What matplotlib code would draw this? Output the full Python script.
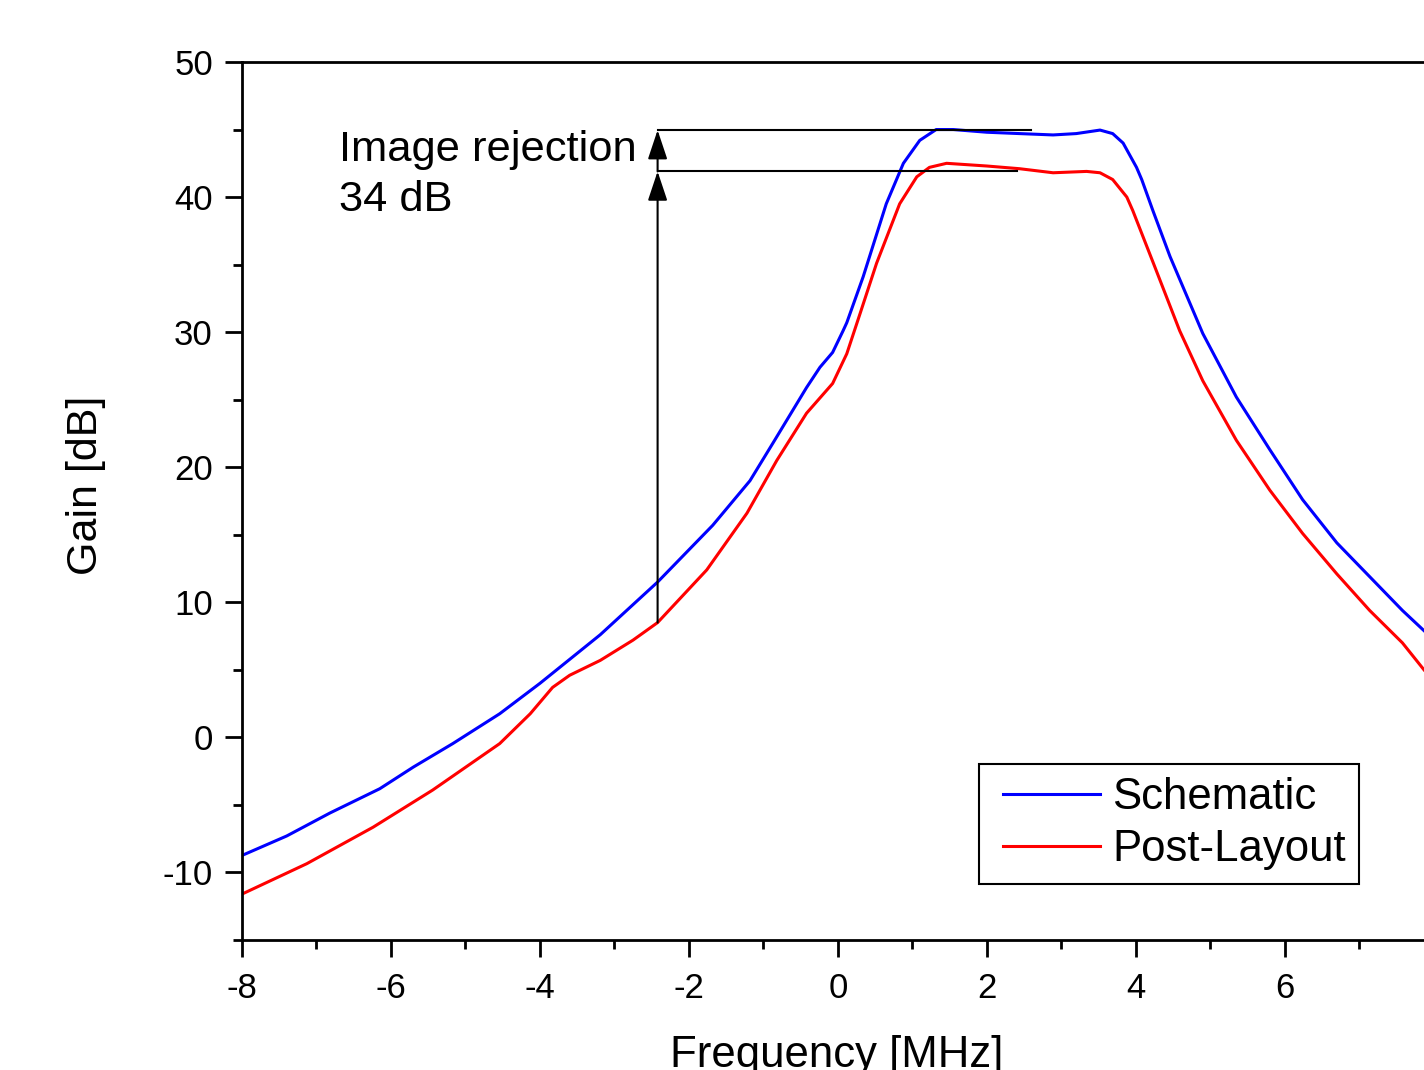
import numpy as np
import matplotlib
matplotlib.use("Agg")
import matplotlib.pyplot as plt
from matplotlib.ticker import MultipleLocator
from matplotlib.legend_handler import HandlerLine2D

plt.rcParams['font.family'] = ['Liberation Sans', 'DejaVu Sans']
plt.rcParams['axes.unicode_minus'] = False

# Schematic simulation (blue)
freq_sch = [-8.0, -7.4, -6.82, -6.15, -5.7, -5.17, -4.54, -4.0, -3.19, -2.42,
            -1.68, -1.18, -0.87, -0.42, -0.24, -0.07, 0.07, 0.12, 0.34, 0.65,
            0.88, 1.1, 1.32, 1.55, 2.0, 2.44, 2.89, 3.2, 3.52, 3.69, 3.83,
            4.01, 4.08, 4.23, 4.46, 4.9, 5.35, 5.8, 6.24, 6.7, 7.14, 7.58, 7.87]
gain_sch = [-8.74, -7.3, -5.6, -3.8, -2.2, -0.46, 1.75, 4.0, 7.6, 11.5,
            15.7, 19.0, 21.8, 25.9, 27.4, 28.5, 30.1, 30.7, 34.1, 39.5,
            42.5, 44.2, 45.0, 45.0, 44.8, 44.7, 44.6, 44.7, 44.96, 44.7, 44.0,
            42.2, 41.3, 39.0, 35.6, 29.9, 25.2, 21.3, 17.6, 14.4, 11.9, 9.4, 7.9]

# Post-layout simulation (red)
freq_pl = [-8.0, -7.13, -6.24, -5.44, -4.54, -4.13, -3.83, -3.6, -3.19, -2.75,
           -2.42, -1.76, -1.22, -0.82, -0.42, -0.07, 0.12, 0.3, 0.52, 0.83,
           1.06, 1.23, 1.46, 2.0, 2.44, 2.89, 3.34, 3.52, 3.69, 3.88, 3.96,
           4.23, 4.59, 4.9, 5.35, 5.8, 6.24, 6.7, 7.14, 7.58, 7.87]
gain_pl = [-11.6, -9.35, -6.65, -3.9, -0.46, 1.75, 3.7, 4.6, 5.7, 7.2,
           8.5, 12.4, 16.6, 20.5, 24.0, 26.2, 28.4, 31.4, 35.1, 39.5,
           41.5, 42.2, 42.5, 42.3, 42.1, 41.8, 41.9, 41.8, 41.3, 40.0, 39.0,
           35.2, 30.1, 26.4, 22.0, 18.3, 15.1, 12.1, 9.4, 7.0, 5.0]

# image rejection annotation
rej_freq = -2.42
rej_top = 44.96       # schematic passband level
rej_mid = 41.9        # post-layout passband level
rej_top_end = 2.6
rej_mid_end = 2.4
rej_label = "Image rejection\n34 dB"

fig = plt.figure(figsize=(14.24, 10.70), dpi=100)
ax = fig.add_axes([242/1424, 1 - 940/1070, 1 - 242/1424, (940 - 62)/1070])

ax.plot(freq_sch, gain_sch, color='#0000ff', lw=2.2, label='Schematic')
ax.plot(freq_pl, gain_pl, color='#ff0000', lw=2.2, label='Post-Layout')

# annotation lines and arrows
rej_low = np.interp(rej_freq, freq_pl, gain_pl)
ax.plot([rej_freq, rej_top_end], [rej_top, rej_top], color='k', lw=1.5)
ax.plot([rej_freq, rej_mid_end], [rej_mid, rej_mid], color='k', lw=1.5)
arrow = dict(arrowstyle='-|>,head_length=0.9,head_width=0.3', color='k',
             lw=1.5, shrinkA=0, shrinkB=0, mutation_scale=20)
ax.annotate('', xy=(rej_freq, rej_mid), xytext=(rej_freq, rej_low), arrowprops=arrow)
ax.annotate('', xy=(rej_freq, rej_top), xytext=(rej_freq, rej_mid), arrowprops=arrow)
ax.text(-6.7, 45.0, rej_label, fontsize=31.3, va='top', ha='left', linespacing=1.35)

ax.set_xlim(-8, 7.87)
ax.set_ylim(-15, 50)
ax.xaxis.set_major_locator(MultipleLocator(2))
ax.xaxis.set_minor_locator(MultipleLocator(1))
ax.yaxis.set_major_locator(MultipleLocator(10))
ax.yaxis.set_minor_locator(MultipleLocator(5))

for s in ['left', 'bottom', 'top']:
    ax.spines[s].set_linewidth(2.0)
ax.spines['right'].set_visible(False)
ax.tick_params(which='major', direction='out', length=12, width=2.0,
               labelsize=25, top=False, right=False)
ax.tick_params(axis='x', which='major', pad=11)
ax.tick_params(axis='y', which='major', pad=9)
ax.tick_params(which='minor', direction='out', length=6.5, width=2.0,
               top=False, right=False)

ax.set_xlabel('Frequency [MHz]', fontsize=31.5, va='top')
ax.xaxis.set_label_coords(0.503, -0.108)
ax.set_ylabel('Gain [dB]', fontsize=31, va='center')
ax.yaxis.set_label_coords(-0.132, 0.518)

leg = ax.legend(loc='upper left', bbox_to_anchor=(979/1424, 1 - 764/1070),
                bbox_transform=fig.transFigure, fontsize=31.5, fancybox=False,
                edgecolor='k', framealpha=1, handlelength=2.47,
                handletextpad=0.27, borderpad=0.3, labelspacing=0.26,
                borderaxespad=0,
                handler_map={plt.Line2D: HandlerLine2D(xpad=0.25)})
leg.get_frame().set_linewidth(1.5)

fig.savefig('out.png', dpi=100)
